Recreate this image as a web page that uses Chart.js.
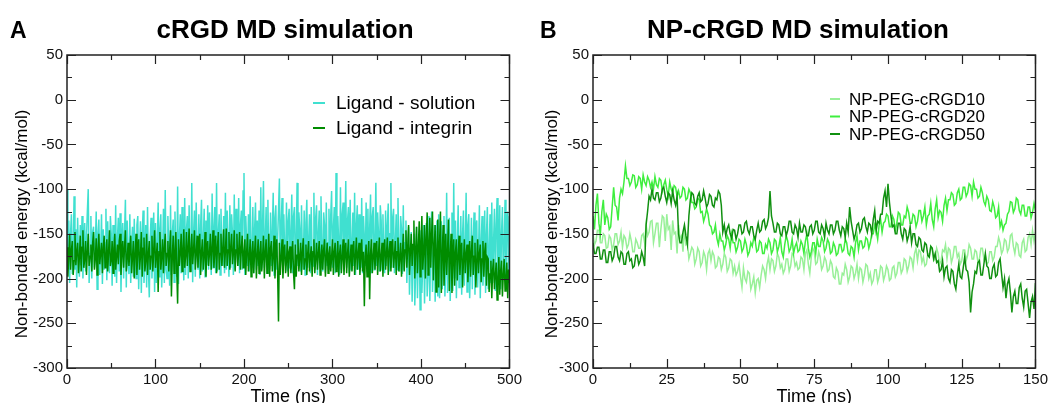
<!DOCTYPE html>
<html>
<head>
<meta charset="utf-8">
<script src="https://cdn.jsdelivr.net/npm/chart.js@4.4.1/dist/chart.umd.min.js"></script>
<style>
  body { margin: 0; background: #fff; }
  #wrap { position: relative; width: 1051px; height: 403px; }
  canvas { position: absolute; top: 0; }
</style>
</head>
<body>
<div id="wrap">
  <canvas id="chartA" width="525" height="403" style="left:0"></canvas>
  <canvas id="chartB" width="526" height="403" style="left:525px"></canvas>
</div>
<script>
// panel A: one value per ns, 0..500 ns (20 values per row)
const stepA = 1;
const solution = [
  -100,-180,-135,-205,-150,-128,-195,-170,-108,-190,-145,-210,-132,-175,-198,-140,-185,-130,-200,-160,
  -138,-192,-155,-125,-100,-205,-172,-130,-200,-148,-142,-188,-165,-125,-212,-150,-134,-196,-175,-128,
  -206,-145,-190,-160,-122,-202,-136,-180,-194,-130,-150,-208,-140,-170,-198,-118,-205,-155,-132,-192,
  -127,-215,-162,-138,-200,-150,-112,-210,-135,-182,-195,-128,-205,-160,-142,-198,-133,-176,-200,-140,
  -130,-212,-165,-136,-216,-150,-124,-205,-178,-140,-210,-120,-190,-221,-155,-132,-200,-170,-126,-215,
  -138,-205,-160,-115,-198,-145,-128,-210,-175,-122,-205,-101,-190,-200,-130,-168,-208,-118,-196,-150,
  -134,-204,-125,-180,-198,-97,-206,-155,-128,-194,-120,-170,-202,-110,-196,-145,-130,-200,-118,-185,
  -192,-93,-204,-150,-124,-198,-115,-172,-190,-128,-200,-140,-112,-192,-160,-122,-198,-135,-185,-118,
  -190,-126,-160,-196,-105,-188,-145,-120,-194,-93,-192,-150,-128,-196,-122,-175,-186,-130,-194,-104,
  -190,-124,-165,-198,-118,-188,-128,-150,-196,-106,-190,-122,-170,-186,-110,-194,-140,-124,-190,-102,
  -82,-196,-130,-160,-186,-128,-192,-108,-175,-188,-120,-194,-145,-115,-190,-135,-186,-124,-196,-98,
  -190,-140,-91,-188,-160,-120,-194,-112,-178,-190,-126,-186,-150,-104,-196,-132,-118,-190,-155,-124,
  -88,-188,-140,-110,-194,-128,-170,-186,-115,-192,-135,-122,-188,-150,-106,-194,-130,-120,-190,-160,
  -93,-186,-126,-145,-192,-118,-176,-190,-124,-196,-138,-112,-188,-160,-128,-194,-120,-175,-186,-104,
  -190,-132,-118,-196,-150,-124,-188,-108,-170,-192,-126,-140,-194,-115,-186,-160,-122,-190,-130,-102,
  -188,-145,-120,-194,-82,-186,-130,-160,-196,-98,-190,-128,-115,-192,-150,-91,-188,-135,-120,-194,
  -112,-190,-165,-126,-186,-104,-196,-140,-118,-190,-128,-172,-188,-110,-194,-130,-155,-186,-115,-192,
  -122,-188,-145,-106,-194,-130,-120,-190,-160,-93,-186,-126,-150,-192,-118,-135,-190,-128,-175,-194,
  -124,-186,-140,-116,-192,-150,-93,-188,-132,-122,-194,-160,-128,-190,-110,-176,-192,-130,-145,-195,
  -118,-190,-160,-135,-205,-170,-142,-218,-180,-148,-226,-165,-150,-230,-190,-142,-222,-175,-155,-235,
  -146,-216,-185,-140,-228,-170,-138,-220,-195,-130,-225,-160,-125,-215,-185,-140,-226,-170,-135,-220,
  -128,-222,-175,-136,-212,-155,-130,-220,-190,-104,-216,-150,-132,-225,-180,-126,-214,-93,-200,-135,
  -222,-165,-118,-210,-180,-130,-218,-150,-124,-208,-170,-104,-215,-140,-128,-222,-185,-132,-212,-160,
  -126,-218,-145,-135,-210,-175,-118,-222,-160,-130,-208,-185,-124,-216,-150,-120,-212,-170,-128,-205,
  -115,-205,-160,-122,-214,-140,-110,-200,-175,-118,-212,-150,-120,-198,-165,-112,-206,-140,-125,-200,
  -130
];
const integrin = [
  -165,-198,-175,-150,-190,-168,-158,-196,-180,-148,-185,-170,-160,-194,-176,-152,-192,-165,-146,-188,
  -178,-158,-196,-170,-150,-186,-175,-162,-192,-160,-148,-190,-178,-155,-196,-168,-150,-184,-172,-160,
  -194,-165,-152,-188,-176,-156,-192,-170,-146,-186,-180,-158,-194,-166,-150,-190,-175,-162,-184,-158,
  -150,-196,-172,-158,-188,-165,-146,-192,-178,-160,-186,-170,-152,-194,-176,-158,-200,-172,-150,-196,
  -168,-156,-190,-175,-148,-198,-166,-154,-192,-180,-150,-196,-172,-158,-190,-175,-152,-192,-168,-146,
  -188,-174,-160,-215,-170,-148,-190,-176,-156,-194,-165,-150,-186,-172,-158,-192,-168,-146,-220,-175,
  -152,-194,-170,-148,-190,-228,-156,-186,-172,-150,-192,-168,-145,-188,-175,-148,-186,-166,-144,-192,
  -170,-150,-184,-168,-146,-190,-172,-152,-188,-165,-150,-196,-170,-156,-190,-175,-148,-198,-168,-158,
  -186,-172,-150,-190,-166,-146,-188,-170,-152,-194,-165,-148,-190,-172,-150,-186,-168,-145,-188,-170,
  -144,-186,-168,-148,-190,-165,-150,-184,-172,-146,-192,-168,-150,-186,-170,-148,-190,-166,-152,-188,
  -172,-156,-196,-170,-150,-192,-176,-156,-198,-172,-158,-194,-170,-152,-200,-175,-156,-194,-172,-158,
  -192,-176,-152,-200,-170,-156,-194,-178,-150,-198,-166,-158,-192,-175,-152,-200,-170,-156,-194,-248,
  -160,-196,-176,-156,-200,-172,-162,-194,-180,-158,-198,-170,-164,-194,-175,-158,-194,-212,-162,-198,
  -174,-156,-192,-176,-160,-196,-170,-155,-190,-178,-162,-196,-172,-158,-192,-175,-164,-198,-170,-156,
  -194,-178,-160,-190,-172,-158,-196,-175,-162,-190,-168,-156,-198,-176,-160,-194,-172,-164,-192,-176,
  -156,-196,-170,-160,-192,-178,-158,-198,-172,-162,-194,-176,-156,-196,-172,-160,-194,-172,-156,-198,
  -178,-162,-192,-170,-158,-196,-175,-154,-190,-172,-160,-196,-176,-156,-192,-170,-231,-175,-162,-198,
  -175,-158,-223,-172,-156,-194,-176,-160,-190,-170,-158,-196,-172,-154,-192,-176,-160,-198,-170,-156,
  -190,-172,-154,-196,-170,-158,-192,-168,-156,-188,-174,-158,-196,-170,-154,-192,-176,-160,-198,-172,
  -150,-192,-168,-146,-188,-165,-140,-196,-170,-150,-186,-162,-135,-200,-168,-142,-194,-165,-136,-198,
  -160,-130,-190,-170,-140,-200,-155,-126,-196,-162,-132,-188,-150,-125,-202,-165,-140,-215,-170,-134,
  -210,-160,-125,-216,-175,-140,-208,-180,-150,-196,-170,-134,-214,-175,-150,-216,-180,-156,-208,-170,
  -156,-202,-176,-152,-196,-170,-160,-210,-180,-156,-194,-172,-162,-204,-178,-158,-198,-170,-152,-196,
  -175,-160,-210,-180,-156,-194,-172,-162,-204,-178,-158,-198,-170,-160,-208,-176,-178,-215,-195,-180,
  -222,-190,-178,-212,-196,-182,-224,-200,-176,-218,-192,-180,-220,-196,-178,-214,-200,-182,-222,-190,
  -205
];

// panel B: one value every 0.5 ns, 0..150 ns (20 values = 10 ns per row)
const stepB = 0.5;
const peg10 = [
  -150,-162,-158,-146,-146,-160,-160,-150,-152,-166,-165,-152,-155,-168,-162,-150,-150,-162,-158,-148,
  -165,-152,-155,-166,-162,-150,-158,-170,-170,-156,-160,-166,-166,-152,-150,-160,-140,-152,-148,-136,
  -135,-160,-150,-138,-138,-165,-145,-130,-132,-158,-128,-145,-142,-168,-135,-150,-148,-172,-140,-155,
  -152,-170,-145,-162,-160,-178,-172,-165,-168,-184,-178,-166,-170,-186,-182,-170,-175,-190,-172,-168,
  -180,-170,-174,-188,-186,-176,-178,-190,-184,-172,-176,-192,-188,-178,-180,-194,-186,-196,-192,-184,
  -198,-210,-188,-200,-204,-192,-194,-212,-206,-198,-216,-202,-200,-210,-196,-186,-190,-200,-184,-176,
  -190,-178,-180,-192,-186,-172,-176,-188,-184,-194,-190,-178,-178,-192,-186,-172,-174,-186,-182,-190,
  -188,-176,-178,-190,-172,-168,-184,-194,-176,-166,-170,-184,-182,-170,-176,-190,-186,-176,-180,-192,
  -190,-180,-184,-198,-200,-188,-192,-206,-206,-194,-196,-184,-190,-204,-198,-186,-188,-200,-194,-184,
  -200,-188,-190,-204,-196,-184,-186,-200,-194,-206,-202,-190,-190,-204,-198,-186,-188,-202,-196,-186,
  -190,-202,-200,-188,-186,-198,-194,-182,-182,-194,-190,-178,-180,-192,-186,-176,-178,-188,-172,-166,
  -180,-168,-170,-182,-176,-186,-184,-172,-174,-164,-168,-180,-178,-166,-172,-184,-180,-168,-170,-162,
  -178,-166,-168,-182,-176,-164,-164,-176,-172,-184,-180,-168,-168,-180,-174,-162,-166,-178,-178,-168,
  -170,-182,-178,-166,-166,-178,-174,-184,-182,-170,-170,-180,-176,-164,-164,-154,-160,-172,-168,-156,
  -158,-170,-166,-152,-150,-164,-172,-160,-162,-174,-176,-160,-156,-170,-168,-154,-150,-162,-146,-158,
  -148
];
const peg20 = [
  -130,-145,-118,-105,-138,-150,-125,-112,-140,-128,-132,-145,-142,-120,-98,-118,-120,-135,-110,-100,
  -105,-92,-74,-88,-88,-96,-92,-84,-85,-98,-95,-86,-88,-100,-84,-92,-96,-86,-90,-98,
  -92,-100,-86,-95,-98,-88,-90,-102,-95,-90,-100,-108,-92,-100,-104,-96,-98,-108,-102,-110,
  -108,-98,-100,-112,-110,-100,-104,-115,-115,-122,-120,-110,-112,-126,-125,-136,-130,-122,-128,-140,
  -142,-150,-148,-140,-155,-162,-150,-158,-158,-168,-162,-152,-156,-166,-150,-160,-160,-170,-165,-156,
  -158,-170,-166,-156,-162,-174,-170,-160,-164,-154,-158,-170,-168,-158,-160,-172,-172,-162,-166,-156,
  -160,-172,-168,-156,-158,-170,-164,-154,-170,-176,-162,-152,-158,-170,-166,-156,-172,-164,-160,-170,
  -168,-158,-162,-172,-158,-150,-166,-176,-170,-160,-160,-172,-156,-164,-164,-154,-158,-170,-166,-156,
  -160,-172,-170,-160,-164,-174,-172,-162,-162,-170,-168,-156,-160,-172,-174,-164,-166,-176,-160,-152,
  -168,-158,-158,-166,-164,-154,-156,-166,-160,-150,-150,-140,-146,-156,-140,-134,-148,-138,-136,-128,
  -130,-142,-142,-130,-134,-146,-138,-126,-128,-140,-140,-130,-132,-120,-126,-138,-138,-128,-130,-142,
  -136,-124,-124,-136,-130,-120,-140,-130,-128,-116,-134,-142,-122,-112,-132,-124,-126,-136,-118,-110,
  -124,-112,-112,-104,-106,-118,-116,-104,-100,-112,-110,-98,-98,-108,-104,-94,-96,-108,-92,-100,
  -100,-110,-108,-98,-104,-114,-118,-108,-112,-124,-125,-114,-120,-132,-130,-120,-142,-136,-146,-140,
  -138,-128,-125,-114,-115,-126,-122,-110,-112,-124,-128,-118,-118,-130,-130,-120,-120,-132,-126,-116,
  -124
];
const peg50 = [
  -160,-172,-172,-165,-165,-178,-178,-168,-168,-182,-182,-170,-170,-180,-176,-164,-164,-176,-180,-170,
  -172,-184,-184,-172,-170,-180,-178,-188,-186,-174,-174,-184,-180,-170,-176,-186,-140,-125,-108,-112,
  -100,-110,-112,-104,-104,-114,-110,-100,-98,-108,-115,-104,-106,-116,-102,-112,-118,-108,-150,-160,
  -160,-148,-140,-152,-162,-130,-112,-104,-106,-116,-118,-108,-104,-114,-112,-102,-110,-120,-116,-106,
  -108,-118,-120,-110,-112,-102,-105,-118,-148,-140,-152,-144,-140,-150,-155,-145,-146,-156,-150,-140,
  -140,-150,-148,-138,-136,-146,-150,-142,-142,-152,-156,-146,-138,-148,-146,-136,-134,-144,-140,-132,
  -102,-130,-138,-148,-148,-138,-140,-150,-152,-142,-142,-152,-146,-136,-136,-148,-150,-140,-144,-154,
  -138,-148,-148,-140,-142,-152,-152,-142,-140,-150,-146,-136,-136,-148,-150,-140,-144,-154,-138,-146,
  -150,-140,-140,-150,-146,-136,-136,-146,-152,-142,-144,-154,-138,-148,-120,-136,-146,-156,-150,-140,
  -138,-148,-144,-134,-132,-142,-148,-138,-140,-150,-134,-124,-146,-136,-138,-128,-128,-110,-102,-120,
  -94,-115,-130,-142,-140,-150,-150,-138,-138,-150,-156,-144,-146,-158,-152,-142,-160,-150,-150,-162,
  -164,-154,-156,-168,-170,-160,-162,-174,-176,-164,-166,-178,-172,-182,-180,-192,-190,-180,-198,-188,
  -186,-200,-204,-190,-192,-206,-212,-196,-184,-198,-200,-188,-176,-190,-192,-204,-238,-215,-206,-192,
  -194,-182,-180,-196,-196,-184,-172,-186,-188,-200,-200,-188,-184,-198,-196,-182,-178,-194,-210,-200,
  -222,-206,-200,-216,-238,-220,-214,-228,-228,-210,-206,-222,-232,-214,-212,-228,-244,-226,-220,-234,
  -205
];

const yTicks = [50, 0, -50, -100, -150, -200, -250, -300];
const xTicksA = [0, 100, 200, 300, 400, 500];
const xTicksB = [0, 25, 50, 75, 100, 125, 150];

const FONT = '"Liberation Sans", Arial, Helvetica, sans-serif';

function toPoints(values, step) {
  return values.map((v, i) => ({ x: i * step, y: v }));
}

function panelPlugin(p) {
  return {
    id: 'panel' + p.letter,
    afterDraw(chart) {
      const ctx = chart.ctx;
      const a = chart.chartArea;
      const xs = chart.scales.x;
      const ys = chart.scales.y;
      ctx.save();

      // frame + inward ticks on all four sides
      ctx.strokeStyle = '#222';
      ctx.lineWidth = 1.5;
      ctx.strokeRect(a.left, a.top, a.right - a.left, a.bottom - a.top);
      ctx.lineWidth = 1.2;
      ctx.beginPath();
      for (let v = xs.min; v <= xs.max + 1e-6; v += p.xMinor) {
        const x = Math.round(xs.getPixelForValue(v)) + 0.5;
        const len = Math.abs(v / p.xMajor - Math.round(v / p.xMajor)) < 1e-6 ? 9 : 5;
        ctx.moveTo(x, a.bottom); ctx.lineTo(x, a.bottom - len);
        ctx.moveTo(x, a.top); ctx.lineTo(x, a.top + len);
      }
      for (let v = ys.min; v <= ys.max + 1e-6; v += 25) {
        const y = Math.round(ys.getPixelForValue(v)) + 0.5;
        const len = v % 50 === 0 ? 9 : 5;
        ctx.moveTo(a.left, y); ctx.lineTo(a.left + len, y);
        ctx.moveTo(a.right, y); ctx.lineTo(a.right - len, y);
      }
      ctx.stroke();

      // panel letter and title
      ctx.fillStyle = '#000';
      ctx.textBaseline = 'alphabetic';
      ctx.textAlign = 'left';
      ctx.font = 'bold 23px ' + FONT;
      ctx.fillText(p.letter, p.letterX, 38);
      ctx.textAlign = 'center';
      ctx.font = 'bold 26px ' + FONT;
      ctx.fillText(p.title, p.titleX, 38);

      // axis titles
      ctx.font = '18px ' + FONT;
      ctx.fillText('Time (ns)', (a.left + a.right) / 2, 402);
      ctx.save();
      ctx.translate(p.yTitleX, 224);
      ctx.rotate(-Math.PI / 2);
      ctx.font = '17px ' + FONT;
      ctx.textBaseline = 'middle';
      ctx.fillText('Non-bonded energy (kcal/mol)', 0, 0);
      ctx.restore();

      // legend inside the plot
      ctx.textAlign = 'left';
      ctx.textBaseline = 'middle';
      ctx.font = p.legendFont + 'px ' + FONT;
      chart.data.datasets.forEach((ds, i) => {
        const y = p.legendY + i * p.legendGap;
        ctx.strokeStyle = ds.borderColor;
        ctx.lineWidth = 2;
        ctx.beginPath();
        ctx.moveTo(p.legendX, y);
        ctx.lineTo(p.legendX + p.legendLen, y);
        ctx.stroke();
        ctx.fillStyle = '#000';
        ctx.fillText(ds.label, p.legendTextX, y + 1);
      });
      ctx.restore();
    }
  };
}

function makeChart(id, datasets, xMax, xTicks, padRight, yWidth, p) {
  return new Chart(document.getElementById(id), {
    type: 'line',
    data: { datasets: datasets },
    options: {
      responsive: false,
      animation: false,
      devicePixelRatio: 1,
      layout: { padding: { left: 0, right: padRight, top: 55, bottom: 0 } },
      plugins: { legend: { display: false }, tooltip: { enabled: false } },
      elements: { point: { radius: 0 }, line: { tension: 0 } },
      scales: {
        x: {
          type: 'linear', min: 0, max: xMax,
          afterBuildTicks: s => { s.ticks = xTicks.map(v => ({ value: v })); },
          afterFit: s => { s.height = 35; },
          grid: { display: false, drawTicks: false },
          border: { display: false },
          ticks: { autoSkip: false, maxRotation: 0, padding: 3, color: '#111', font: { size: 15, family: FONT } }
        },
        y: {
          type: 'linear', min: -300, max: 50,
          afterBuildTicks: s => { s.ticks = yTicks.map(v => ({ value: v })); },
          afterFit: s => { s.width = yWidth; },
          grid: { display: false, drawTicks: false },
          border: { display: false },
          ticks: { padding: 4, color: '#111', font: { size: 15, family: FONT }, callback: v => String(v) }
        }
      }
    },
    plugins: [panelPlugin(p)]
  });
}

makeChart('chartA', [
  { label: 'Ligand - solution', data: toPoints(solution, stepA), borderColor: '#40E0D0', borderWidth: 1.5, order: 2 },
  { label: 'Ligand - integrin', data: toPoints(integrin, stepA), borderColor: '#008C00', borderWidth: 1.5, order: 1 }
], 500, xTicksA, 15, 67, {
  letter: 'A', letterX: 10, title: 'cRGD MD simulation', titleX: 285, yTitleX: 22,
  xMinor: 50, xMajor: 100,
  legendX: 313, legendLen: 12, legendTextX: 336, legendY: 103, legendGap: 25, legendFont: 19
});

makeChart('chartB', [
  { label: 'NP-PEG-cRGD10', data: toPoints(peg10, stepB), borderColor: '#98F098', borderWidth: 1.5, order: 3 },
  { label: 'NP-PEG-cRGD20', data: toPoints(peg20, stepB), borderColor: '#3EEE3E', borderWidth: 1.5, order: 2 },
  { label: 'NP-PEG-cRGD50', data: toPoints(peg50, stepB), borderColor: '#109010', borderWidth: 1.5, order: 1 }
], 150, xTicksB, 14, 68, {
  letter: 'B', letterX: 15, title: 'NP-cRGD MD simulation', titleX: 273, yTitleX: 27,
  xMinor: 12.5, xMajor: 25,
  legendX: 305, legendLen: 10, legendTextX: 324, legendY: 99, legendGap: 17.5, legendFont: 17
});
</script>
</body>
</html>
